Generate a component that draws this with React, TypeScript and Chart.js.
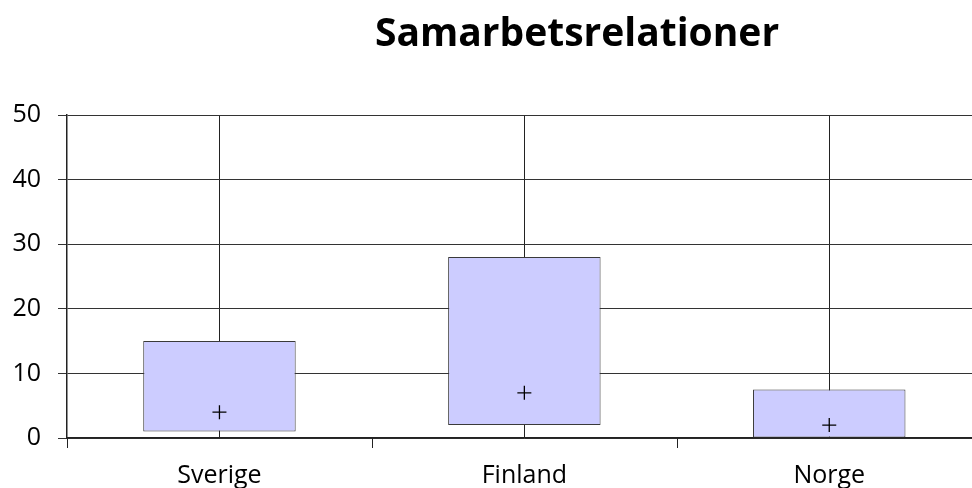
import React, { useEffect, useRef } from "react";
import { Chart, registerables } from "chart.js";

Chart.register(...registerables);

const titleText = "Samarbetsrelationer";
const categories = ["Sverige", "Finland", "Norge"];
const lowValues = [1, 2, 0];
const highValues = [15, 28, 7.5];
const meanValues = [4, 7, 2];
const yMin = 0;
const yMax = 50;
const yStep = 10;

const FONT = "'Open Sans', 'Liberation Sans', sans-serif";

const boundaryTicks = {
  id: "boundaryTicks",
  afterDraw(chart: any) {
    const x = chart.scales.x;
    const ctx = chart.ctx;
    const bottom = chart.chartArea.bottom;
    const n = categories.length;
    const step = x.getPixelForValue(1) - x.getPixelForValue(0);
    ctx.save();
    ctx.strokeStyle = "#222";
    ctx.lineWidth = 1;
    for (let i = 0; i <= n; i++) {
      const px = Math.round(x.getPixelForValue(0) - step / 2 + i * step) + 0.5;
      ctx.beginPath();
      ctx.moveTo(px, bottom);
      ctx.lineTo(px, bottom + 10);
      ctx.stroke();
    }
    ctx.restore();
  },
};

const titlePlugin = {
  id: "customTitle",
  afterDraw(chart: any) {
    const ctx = chart.ctx;
    ctx.save();
    ctx.font = `bold 39px ${FONT}`;
    ctx.fillStyle = "#000";
    ctx.textAlign = "center";
    ctx.textBaseline = "middle";
    ctx.fillText(titleText, 577, 35);
    ctx.restore();
  },
};

export default function App() {
  const ref = useRef<HTMLCanvasElement>(null);
  useEffect(() => {
    if (!ref.current) return;
    const chart = new Chart(ref.current, {
      type: "bar",
      data: {
        labels: categories,
        datasets: [
          {
            type: "bar",
            data: categories.map((_, i) => [lowValues[i], highValues[i]]) as any,
            backgroundColor: "#CCCCFF",
            borderColor: "#3a3a3a",
            borderWidth: 1,
            borderSkipped: false,
            barPercentage: 0.5,
            categoryPercentage: 1,
            order: 2,
          },
          {
            type: "line",
            data: meanValues,
            showLine: false,
            pointStyle: "cross",
            pointRadius: 7,
            pointBorderColor: "#000",
            pointBorderWidth: 1.3,
            borderColor: "#000",
            order: 1,
          } as any,
        ],
      },
      options: {
        responsive: false,
        animation: false,
        layout: { padding: { top: 115, right: 8, left: 0, bottom: 0 } },
        plugins: {
          legend: { display: false },
          title: { display: false },
          tooltip: { enabled: false },
        },
        scales: {
          x: {
            offset: true,
            grid: { offset: false, color: "#222", drawTicks: false, lineWidth: 1 },
            border: { color: "#222", width: 1.5 },
            ticks: { color: "#000", font: { family: FONT, size: 25 }, padding: 23 },
            afterFit(scale: any) {
              scale.height = 50;
            },
          },
          y: {
            min: yMin,
            max: yMax,
            ticks: { stepSize: yStep, color: "#000", font: { family: FONT, size: 25 }, padding: 17 },
            grid: { color: "#333", lineWidth: 1, tickLength: 9 },
            border: { color: "#222", width: 1.5 },
            afterFit(scale: any) {
              scale.width = 67;
            },
          },
        },
      },
      plugins: [boundaryTicks, titlePlugin],
    });
    return () => chart.destroy();
  }, []);
  return (
    <div style={{ position: "fixed", left: 0, top: 0, width: 972, height: 488, overflow: "hidden", background: "#fff" }}>
      <canvas ref={ref} width={990} height={488} style={{ display: "block", width: 990, height: 488 }} />
    </div>
  );
}
